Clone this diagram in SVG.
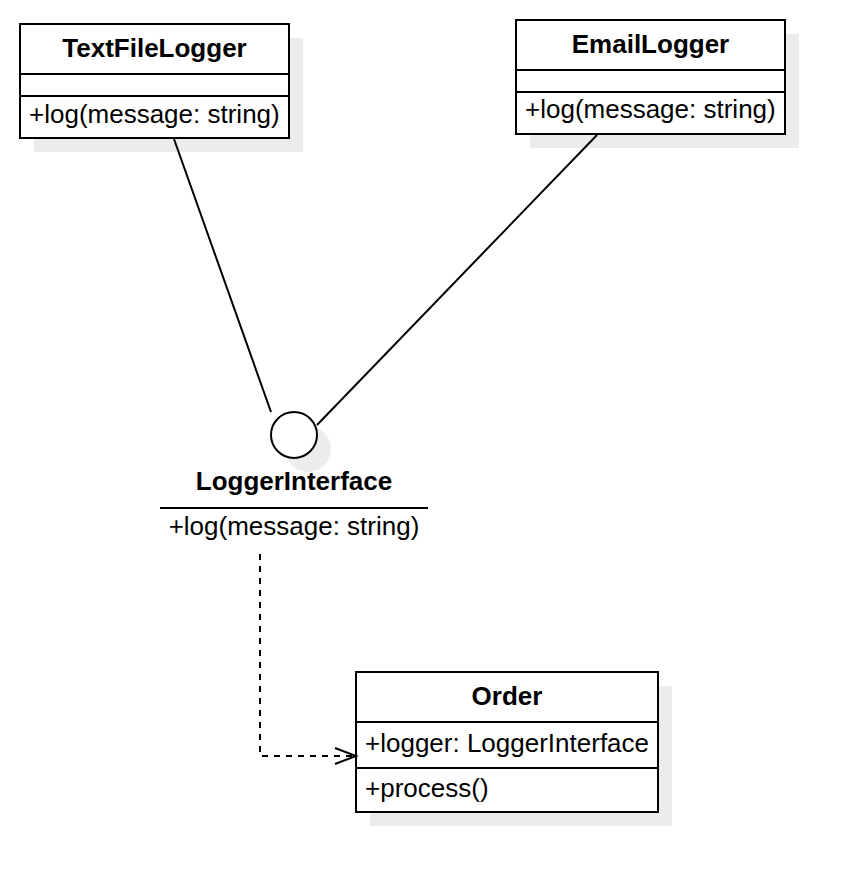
<svg xmlns="http://www.w3.org/2000/svg" width="864" height="892" viewBox="0 0 864 892">
<defs>
<style>
.box{fill:#ffffff;stroke:#000000;stroke-width:2}
.shadow{fill:#ececec;stroke:none}
.sep{stroke:#000000;stroke-width:2;fill:none}
.title{font-family:"Liberation Sans",Arial,sans-serif;font-size:26px;font-weight:bold;fill:#000000;text-anchor:middle}
.member{font-family:"Liberation Sans",Arial,sans-serif;font-size:26px;fill:#000000}
.edge{stroke:#000000;stroke-width:2;fill:none}
.dash{stroke-dasharray:6 6}
</style>
</defs>
<rect width="864" height="892" fill="#ffffff"/>
<g id="TextFileLogger">
<rect class="shadow" x="34" y="38" width="269" height="114"/>
<rect class="box" x="20" y="24" width="269" height="114"/>
<line class="sep" x1="20" y1="74" x2="289" y2="74"/>
<line class="sep" x1="20" y1="96" x2="289" y2="96"/>
<text class="title" x="154.5" y="57">TextFileLogger</text>
<text class="member" x="29" y="123">+log(message: string)</text>
</g>
<g id="EmailLogger">
<rect class="shadow" x="530" y="34" width="269" height="114"/>
<rect class="box" x="516" y="20" width="269" height="114"/>
<line class="sep" x1="516" y1="70" x2="785" y2="70"/>
<line class="sep" x1="516" y1="92" x2="785" y2="92"/>
<text class="title" x="650.5" y="53">EmailLogger</text>
<text class="member" x="525" y="118">+log(message: string)</text>
</g>
<g id="LoggerInterface">
<circle class="shadow" cx="308" cy="449" r="23"/>
<circle class="box" cx="294" cy="435" r="23"/>
<text class="title" x="294" y="490">LoggerInterface</text>
<line class="sep" x1="160" y1="508" x2="428" y2="508"/>
<text class="member" x="294" y="535" text-anchor="middle">+log(message: string)</text>
</g>
<g id="Order">
<rect class="shadow" x="370" y="686" width="302" height="140"/>
<rect class="box" x="356" y="672" width="302" height="140"/>
<line class="sep" x1="356" y1="722" x2="658" y2="722"/>
<line class="sep" x1="356" y1="768" x2="658" y2="768"/>
<text class="title" x="507" y="705">Order</text>
<text class="member" x="365" y="752">+logger: LoggerInterface</text>
<text class="member" x="365" y="797">+process()</text>
</g>
<g id="connectors">
<line class="edge" x1="174" y1="139" x2="271" y2="412"/>
<line class="edge" x1="597" y1="135" x2="317" y2="425"/>
<polyline class="edge dash" points="260,554 260,756 354,756"/>
<polyline class="edge" points="335,748 356,756 335,764"/>
</g>
</svg>
